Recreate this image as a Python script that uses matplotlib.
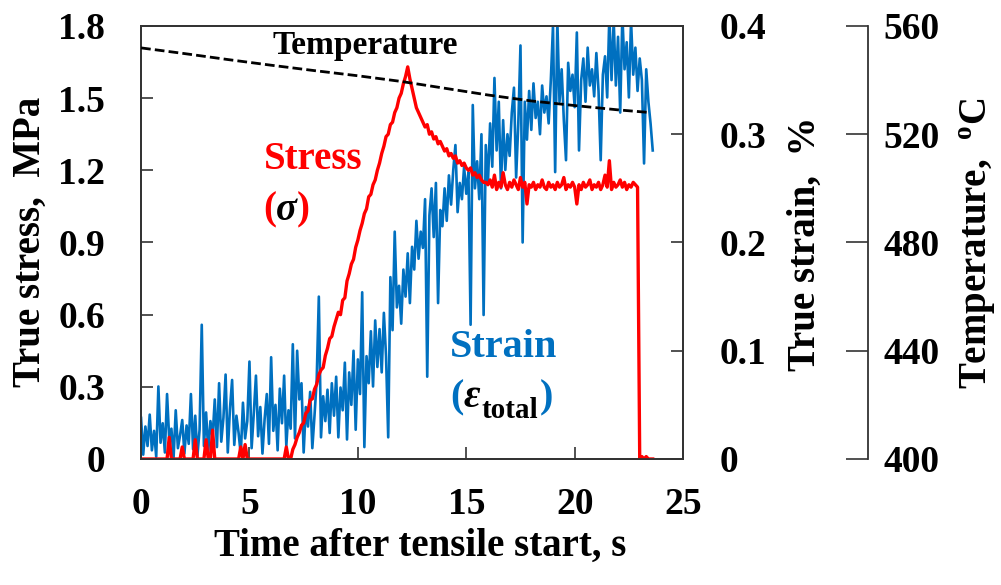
import matplotlib
matplotlib.use("Agg")
import matplotlib.pyplot as plt
import numpy as np

plt.rcParams['font.family'] = ['Liberation Serif', 'DejaVu Serif']
plt.rcParams['font.weight'] = 'bold'
plt.rcParams['mathtext.fontset'] = 'custom'
plt.rcParams['mathtext.rm'] = 'Liberation Serif:bold'
plt.rcParams['mathtext.bf'] = 'Liberation Serif:bold'
plt.rcParams['mathtext.it'] = 'Liberation Serif:italic:bold'

# time base for stress / strain records, 0.1 s step
time = np.round(np.arange(0, 237) * 0.1, 1)

# true strain, %
strain = [
    0.038, 0.004, 0.030, 0.012, 0.041, 0.008, 0.026, 0.002, 0.067, 0.015,
    0.033, 0.006, 0.060, 0.018, 0.028, 0.001, 0.045, 0.010, 0.022, 0.036,
    0.005, 0.031, 0.014, 0.060, 0.009, 0.040, 0.003, 0.027, 0.124, 0.012,
    0.043, 0.007, 0.035, 0.020, 0.055, 0.011, 0.070, 0.016, 0.038, 0.078,
    0.006, 0.046, 0.073, 0.013, 0.040, 0.024, 0.004, 0.052, 0.019, 0.035,
    0.090, 0.010, 0.042, 0.077, 0.021, 0.048, 0.005, 0.037, 0.060, 0.014,
    0.094, 0.026, 0.050, 0.008, 0.065, 0.033, 0.077, 0.012, 0.045, 0.028,
    0.106, 0.019, 0.100, 0.055, 0.070, 0.006, 0.048, 0.030, 0.062, 0.010,
    0.040, 0.072, 0.150, 0.020, 0.058, 0.035, 0.064, 0.024, 0.070, 0.040,
    0.076, 0.020, 0.066, 0.045, 0.089, 0.018, 0.080, 0.050, 0.100, 0.027,
    0.092, 0.060, 0.154, 0.011, 0.095, 0.070, 0.118, 0.067, 0.128, 0.085,
    0.120, 0.080, 0.135, 0.095, 0.020, 0.168, 0.119, 0.210, 0.140, 0.160,
    0.125, 0.175, 0.150, 0.190, 0.144, 0.196, 0.175, 0.220, 0.185, 0.210,
    0.195, 0.240, 0.076, 0.225, 0.250, 0.205, 0.255, 0.144, 0.230, 0.215,
    0.250, 0.220, 0.262, 0.235, 0.267, 0.290, 0.228, 0.255, 0.240, 0.270,
    0.245, 0.265, 0.124, 0.327, 0.250, 0.275, 0.240, 0.300, 0.133, 0.290,
    0.255, 0.310, 0.270, 0.352, 0.285, 0.330, 0.250, 0.313, 0.267, 0.300,
    0.280, 0.320, 0.343, 0.260, 0.310, 0.382, 0.200, 0.330, 0.295, 0.340,
    0.304, 0.347, 0.315, 0.330, 0.300, 0.345, 0.320, 0.335, 0.310, 0.350,
    0.400, 0.265, 0.405, 0.330, 0.360, 0.313, 0.276, 0.366, 0.340, 0.355,
    0.325, 0.394, 0.285, 0.350, 0.370, 0.330, 0.380, 0.345, 0.360, 0.335,
    0.375, 0.340, 0.276, 0.355, 0.372, 0.334, 0.410, 0.350, 0.405, 0.345,
    0.390, 0.320, 0.410, 0.360, 0.385, 0.334, 0.405, 0.355, 0.380, 0.340,
    0.370, 0.350, 0.273, 0.360, 0.330, 0.310, 0.285,
]

# true stress, MPa
stress = [
    0, 0, 0, 0, 0, 0, 0, 0, 0, 0,
    0, 0, 0, 0.09, 0, 0, 0, 0, 0, 0.05,
    0, 0, 0, 0, 0, 0.08, 0, 0, 0, 0,
    0.08, 0, 0, 0.12, 0, 0, 0, 0, 0, 0,
    0, 0, 0, 0, 0, 0, 0.05, 0, 0.06, 0,
    0, 0, 0, 0, 0, 0, 0, 0, 0, 0,
    0, 0, 0, 0, 0, 0, 0, 0.05, 0, 0,
    0.04, 0.06, 0.09, 0.11, 0.14, 0.15, 0.19, 0.20, 0.245, 0.25,
    0.29, 0.31, 0.35, 0.37, 0.38, 0.43, 0.46, 0.50, 0.51, 0.55,
    0.58, 0.61, 0.60, 0.66, 0.67, 0.74, 0.77, 0.81, 0.83, 0.88,
    0.91, 0.95, 0.98, 1.02, 1.04, 1.09, 1.10, 1.14, 1.16, 1.20,
    1.23, 1.27, 1.30, 1.34, 1.35, 1.39, 1.40, 1.44, 1.46, 1.50,
    1.52, 1.56, 1.59, 1.63, 1.58, 1.54, 1.50, 1.46, 1.44, 1.42,
    1.40, 1.38, 1.39, 1.35, 1.36, 1.33, 1.34, 1.31, 1.32, 1.30,
    1.28, 1.29, 1.26, 1.27, 1.25, 1.26, 1.23, 1.24, 1.22, 1.23,
    1.21, 1.20, 1.21, 1.18, 1.19, 1.17, 1.18, 1.16, 1.15, 1.15,
    1.14, 1.16, 1.13, 1.18, 1.12, 1.15, 1.13, 1.19, 1.14, 1.12,
    1.15, 1.13, 1.16, 1.14, 1.12, 1.17, 1.13, 1.15, 1.06, 1.14,
    1.13, 1.15, 1.12, 1.14, 1.13, 1.16, 1.13, 1.12, 1.15, 1.13,
    1.14, 1.12, 1.15, 1.13, 1.14, 1.17, 1.12, 1.14, 1.13, 1.15,
    1.13, 1.06, 1.14, 1.12, 1.15, 1.13, 1.14, 1.16, 1.12, 1.14,
    1.13, 1.15, 1.12, 1.14, 1.18, 1.13, 1.24, 1.12, 1.15, 1.13,
    1.14, 1.16, 1.13, 1.15, 1.12, 1.14, 1.13, 1.15, 1.14, 1.13,
    0, 0.01, 0, 0.01, 0, 0, 0,
]

# temperature, deg C
temp_time = [0, 2, 4, 6, 8, 10, 12, 14, 16, 18, 20, 22, 23.5]
temp = [551.9, 549.8, 547.6, 545.5, 543.5, 541.6, 539.5, 537.0, 534.5, 532.3, 530.6, 529.0, 528.0]

x_ticks = [0, 5, 10, 15, 20, 25]
stress_ticks = [0, 0.3, 0.6, 0.9, 1.2, 1.5, 1.8]
stress_labels = ['0', '0.3', '0.6', '0.9', '1.2', '1.5', '1.8']
strain_ticks = [0, 0.1, 0.2, 0.3, 0.4]
strain_labels = ['0', '0.1', '0.2', '0.3', '0.4']
temp_ticks = [400, 440, 480, 520, 560]

blue = '#0070C0'
red = '#FF0000'
spine_col = '#333333'

fig = plt.figure(figsize=(10.01, 5.85), dpi=100)
ax = fig.add_axes([0.1409, 0.2154, 0.5415, 0.7402])
ax2 = ax.twinx()
ax3 = ax.twinx()

ax2.set_zorder(1)
ax.set_zorder(2)
ax3.set_zorder(3)
ax.patch.set_visible(False)

ax2.plot(time, strain, color=blue, lw=1.9)
ax.plot(time, stress, color=red, lw=2.4)
ax3.plot(temp_time, temp, color='black', lw=2.0, linestyle=(0, (3.5, 1.5)))

ax.set_xlim(0, 25)
ax.set_ylim(0, 1.8)
ax2.set_ylim(0, 0.4)
ax3.set_ylim(400, 560)

ax.set_xticks(x_ticks)
ax.set_xticklabels([str(v) for v in x_ticks])
ax.set_yticks(stress_ticks)
ax.set_yticklabels(stress_labels)
ax2.set_yticks(strain_ticks)
ax2.set_yticklabels(strain_labels)
ax3.set_yticks(temp_ticks)
ax3.set_yticklabels([str(v) for v in temp_ticks])

for a in (ax, ax2):
    for s in a.spines.values():
        s.set_color(spine_col)
        s.set_linewidth(1.3)

ax.tick_params(axis='y', direction='in', length=8.6, width=1.2, color=spine_col,
               labelsize=27, pad=26)
ax.tick_params(axis='x', direction='in', length=8.6, width=1.2, color=spine_col,
               labelsize=27, pad=20)
ax2.tick_params(axis='y', direction='in', length=8.6, width=1.2, color=spine_col,
                labelsize=27, pad=26)

ax3.spines['right'].set_position(('axes', 1.3413))
for side in ('top', 'bottom', 'left'):
    ax3.spines[side].set_visible(False)
ax3.spines['right'].set_color(spine_col)
ax3.spines['right'].set_linewidth(1.3)
ax3.tick_params(axis='y', direction='in', length=16, width=1.2, color=spine_col,
                labelsize=27, pad=11)

for a in (ax, ax2, ax3):
    for lab in a.get_xticklabels() + a.get_yticklabels():
        lab.set_fontweight('bold')

# axis titles
fig.text(30 / 1001, 1 - 242 / 585, 'True stress,  MPa', rotation=90,
         ha='center', va='center', fontsize=28, fontweight='bold')
fig.text(805 / 1001, 1 - 244 / 585, 'True strain,  %', rotation=90,
         ha='center', va='center', fontsize=28, fontweight='bold')
fig.text(978 / 1001, 1 - 243 / 585, r'Temperature,  $^{\mathbf{o}}$C', rotation=90,
         ha='center', va='center', fontsize=28, fontweight='bold')
fig.text(420 / 1001, 1 - 546 / 585, 'Time after tensile start, s',
         ha='center', va='center', fontsize=28, fontweight='bold')

# in-plot labels
ax.text(10.33, 1.72, 'Temperature', ha='center', va='center', fontsize=24,
        fontweight='bold', color='black')
ax.text(7.93, 1.245, 'Stress', ha='center', va='center', fontsize=28,
        fontweight='bold', color=red)
t1 = ax.text(5.63, 1.035, '(', ha='left', va='center', fontsize=28,
             fontweight='bold', color=red)
t2 = ax.annotate('σ', xy=(1, 0), xycoords=t1, ha='left', va='bottom',
                 fontsize=28, fontstyle='italic', fontweight='bold', color='black')
ax.annotate(')', xy=(1, 0), xycoords=t2, ha='left', va='bottom', fontsize=28,
            fontweight='bold', color=red)

ax.text(16.74, 0.465, 'Strain', ha='center', va='center', fontsize=29,
        fontweight='bold', color=blue)
e1 = ax.text(14.25, 0.255, '(', ha='left', va='center', fontsize=29,
             fontweight='bold', color=blue)
e2 = ax.annotate('ε', xy=(1, 0), xycoords=e1, ha='left', va='bottom',
                 fontsize=29, fontstyle='italic', fontweight='bold', color='black')
e3 = ax.annotate('total', xy=(1, 0), xycoords=e2, xytext=(1, -6),
                 textcoords='offset points', ha='left', va='bottom',
                 fontsize=21, fontweight='bold', color='black')
ax.annotate(')', xy=(1, 0), xycoords=e3, xytext=(1, 6), textcoords='offset points',
            ha='left', va='bottom', fontsize=29, fontweight='bold', color=blue)

fig.savefig('out.png', dpi=100)
